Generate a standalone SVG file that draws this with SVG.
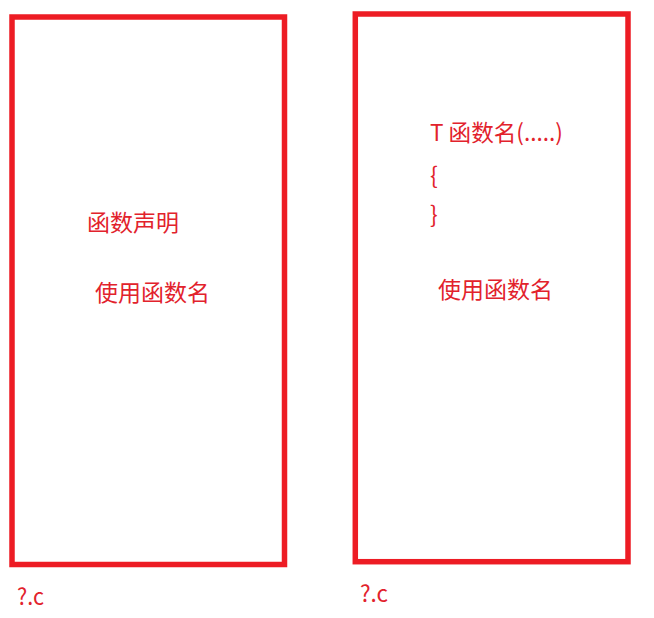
<svg xmlns="http://www.w3.org/2000/svg" width="654" height="618" viewBox="0 0 654 618">
<style>
.box{fill:none;stroke:#ed1c24;stroke-width:5.5}
.t{font-family:"Noto Sans CJK SC","Microsoft YaHei",sans-serif;font-size:23px;fill:#e2222c}
</style>
<rect width="654" height="618" fill="#ffffff"/>
<g id="left-file">
<rect class="box" x="12" y="17" width="272.5" height="547.5"/>
<text class="t" x="87" y="231">函数声明</text>
<text class="t" x="95" y="301">使用函数名</text>
<text class="t" x="17" y="605" textLength="27" lengthAdjust="spacingAndGlyphs">?.c</text>
</g>
<g id="right-file">
<rect class="box" x="355.3" y="14" width="272.7" height="547.7"/>
<text class="t" x="430" y="141" textLength="133" lengthAdjust="spacingAndGlyphs">T 函数名(.....)</text>
<text class="t" x="430" y="184">{</text>
<text class="t" x="430" y="223">}</text>
<text class="t" x="438" y="298">使用函数名</text>
<text class="t" x="360" y="602" textLength="28" lengthAdjust="spacingAndGlyphs">?.c</text>
</g>
<g id="connectors"></g>
</svg>
